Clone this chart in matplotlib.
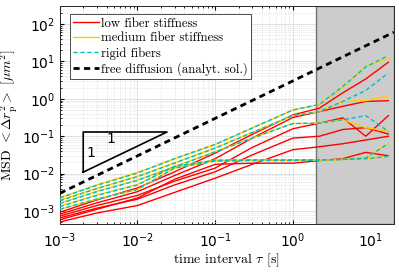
import numpy as np
import matplotlib
matplotlib.use('Agg')
import matplotlib.pyplot as plt

# lag times [s]
tau = [0.001, 0.003, 0.01, 0.03, 0.1, 0.3, 1.0, 2.2, 4.4, 8.7, 17.0]

# log10 of MSD [um^2]
low_stiff = [
    [-3.03, -2.70, -2.38, -1.95, -1.45, -0.95, -0.43, -0.25, 0.16, 0.53, 0.976],
    [-3.08, -2.78, -2.48, -2.05, -1.60, -1.05, -0.50, -0.34, -0.20, -0.07, -0.05],
    [-3.13, -2.85, -2.58, -2.20, -1.85, -1.30, -0.80, -0.65, -0.51, -1.00, -0.45],
    [-3.18, -2.92, -2.68, -2.30, -1.95, -1.50, -1.05, -1.00, -0.82, -0.77, -0.94],
    [-3.29, -3.05, -2.85, -2.50, -2.12, -1.75, -1.36, -1.28, -1.20, -1.10, -1.00],
    [-3.23, -2.95, -2.65, -2.15, -1.75, -1.72, -1.72, -1.65, -1.60, -1.43, -1.52],
]
medium_stiff = [
    [-2.64, -2.30, -1.97, -1.60, -1.22, -0.78, -0.30, -0.15, 0.30, 0.87, 1.08],
    [-2.71, -2.39, -2.07, -1.71, -1.31, -0.90, -0.45, -0.34, -0.07, -0.05, 0.083],
    [-2.79, -2.47, -2.17, -1.81, -1.41, -1.05, -0.66, -0.65, -0.56, -0.77, -0.87],
    [-2.87, -2.57, -2.29, -1.80, -1.64, -1.63, -1.63, -1.63, -1.62, -1.58, -1.20],
    [-2.95, -2.68, -2.42, -1.85, -1.66, -1.65, -1.65, -1.64, -1.62, -1.60, -1.54],
]
rigid = [
    [-2.65, -2.31, -1.98, -1.60, -1.22, -0.78, -0.30, -0.15, 0.33, 0.85, 1.155],
    [-2.72, -2.40, -2.08, -1.72, -1.32, -0.90, -0.45, -0.34, -0.07, 0.225, 0.69],
    [-2.80, -2.48, -2.18, -1.82, -1.42, -1.05, -0.66, -0.65, -0.56, -0.45, -0.87],
    [-2.88, -2.58, -2.30, -1.80, -1.64, -1.63, -1.63, -1.63, -1.62, -1.58, -1.20],
    [-2.95, -2.68, -2.42, -1.85, -1.66, -1.65, -1.65, -1.64, -1.62, -1.60, -1.54],
]

free_tau = [1e-3, 20.0]
free_msd = [3e-3, 60.0]

tri_x = [2e-3, 2e-3, 0.024, 2e-3]
tri_y = [1.1e-2, 0.13, 0.13, 1.1e-2]

yellow = (1.0, 0.8, 0.0)

fig = plt.figure(figsize=(3.99, 2.76), dpi=100)
ax = fig.add_axes([0.150, 0.188, 0.837, 0.790])
ax.set_xscale('log')
ax.set_yscale('log')
ax.set_xlim(1e-3, 20)
ax.set_ylim(4.5e-4, 300)

ax.set_axisbelow(True)
ax.grid(True, which='major', color='0.86', lw=0.6)
ax.grid(True, which='minor', color='0.86', ls=':', lw=0.6)
ax.axvspan(2, 20, facecolor='0.8', edgecolor='0.45', lw=1, zorder=1)

for v in low_stiff:
    h_low, = ax.plot(tau, 10 ** np.array(v), color='r', lw=1.0, zorder=3)
for v in medium_stiff:
    h_med, = ax.plot(tau, 10 ** np.array(v), color=yellow, lw=1.0, zorder=3)
for v in rigid:
    h_rig, = ax.plot(tau, 10 ** np.array(v), color='c', lw=1.0, dashes=(3, 2), zorder=3)
h_free, = ax.plot(free_tau, free_msd, color='k', lw=2, dashes=(2.2, 1.6), zorder=4)

ax.plot(tri_x, tri_y, color='k', lw=1.2, zorder=4)
ax.text(4.5e-3, 0.085, '1', fontsize=10, ha='center', va='center')
ax.text(2.5e-3, 0.036, '1', fontsize=10, ha='center', va='center')

ax.set_xticks([1e-3, 1e-2, 1e-1, 1, 10])
ax.set_yticks([1e-3, 1e-2, 1e-1, 1, 10, 100])
ax.tick_params(which='both', direction='in', top=True, right=True, labelsize=10)
ax.tick_params(which='major', length=3)
ax.tick_params(which='minor', length=1.5)
ax.tick_params(axis='x', pad=5)
for s in ax.spines.values():
    s.set_color('0.15')
    s.set_linewidth(0.7)

ax.set_xlabel(r'time interval $\tau$ [s]', family='cmr10', math_fontfamily='cm', fontsize=10, labelpad=1)
ax.set_ylabel(r'MSD $<\Delta r_\mathrm{p}^2>$ $[\mu m^2]$', family='cmr10', math_fontfamily='cm', fontsize=10, labelpad=1)

leg = ax.legend([h_low, h_med, h_rig, h_free],
                ['low fiber stiffness', 'medium fiber stiffness', 'rigid fibers', 'free diffusion (analyt. sol.)'],
                loc='upper left', bbox_to_anchor=(0.03, 0.962), borderaxespad=0,
                fancybox=False, edgecolor='0.3', framealpha=1, handlelength=2.0,
                handletextpad=0.2, labelspacing=0.2, borderpad=0.25,
                prop={'family': 'cmr10', 'size': 9.2})
leg.get_frame().set_linewidth(0.7)

fig.savefig('out.png', dpi=100)
